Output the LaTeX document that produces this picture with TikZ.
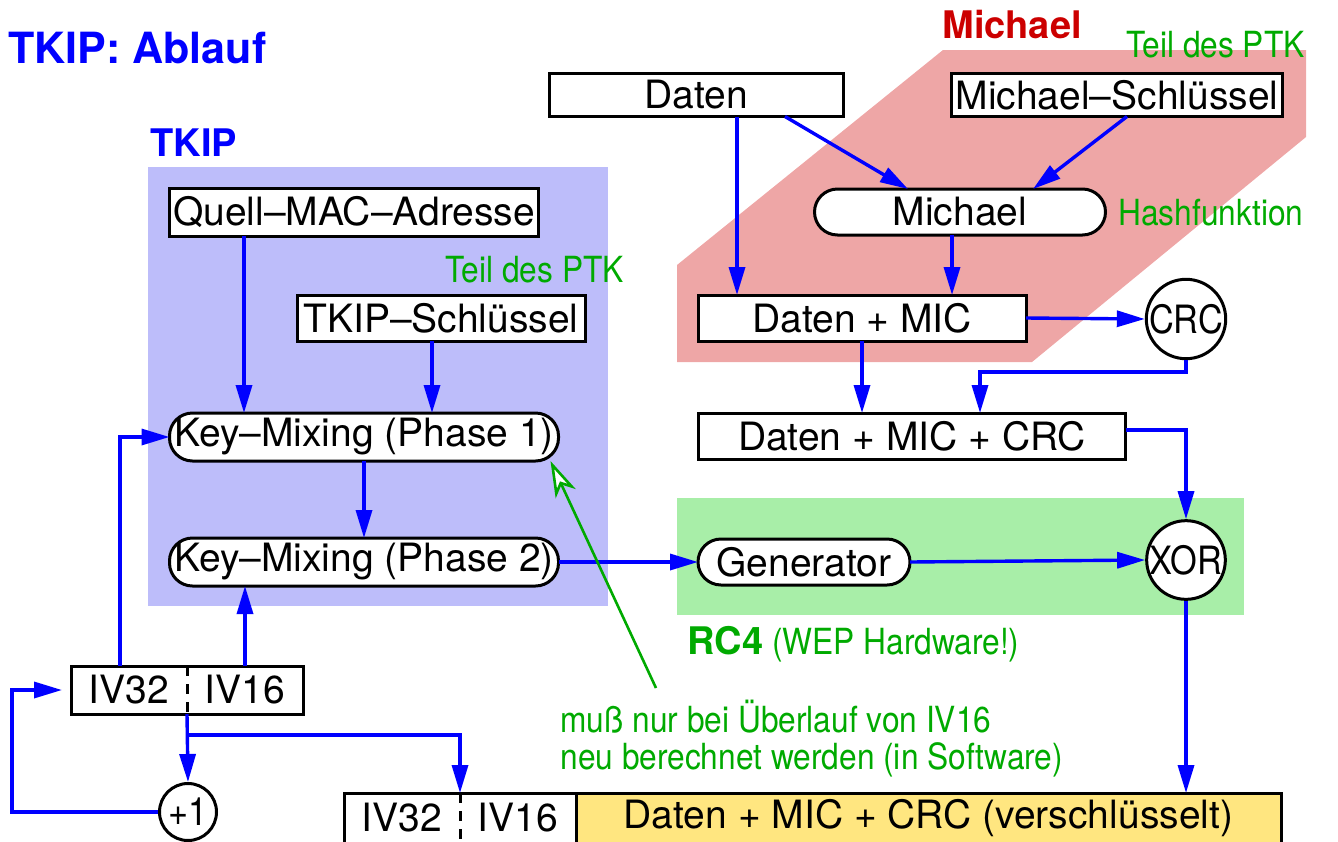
\documentclass[tikz,border=0pt]{standalone}
\usepackage{fontspec}
\setmainfont{TeX Gyre Heros}
\newfontfamily\condfont[FakeStretch=0.88]{TeX Gyre Heros}
\usetikzlibrary{arrows.meta, positioning}

\definecolor{tkipblue}{RGB}{189,189,250}
\definecolor{michaelred}{RGB}{238,166,166}
\definecolor{rcgreen}{RGB}{168,238,168}
\definecolor{cryptyellow}{RGB}{255,230,128}
\definecolor{notegreen}{RGB}{0,170,0}
\definecolor{titlered}{RGB}{204,0,0}

\begin{document}
\begin{tikzpicture}[
            x = 0.5pt, y = -0.5pt,
            > = {Triangle[length=14pt, width=8pt]},
            box/.style = {draw, line width=1.5pt, fill=white, minimum height=23pt,
                          inner sep=0pt, outer sep=0pt, font=\fontsize{19.5}{23}\selectfont},
            roundbox/.style = {box, rounded corners=11.5pt},
            halfbox/.style = {inner sep=0pt, outer sep=0pt, minimum width=58pt,
                              minimum height=24pt, font=\fontsize{19.5}{23}\selectfont},
            junction/.style = {draw, circle, line width=1.5pt, fill=white, minimum size=38.5pt,
                               inner sep=0pt, font=\condfont\fontsize{19.5}{23}\selectfont},
            flow/.style = {->, blue, line width=1.7pt},
            greennote/.style = {notegreen, inner sep=0pt, font=\condfont\fontsize{18}{18.5}\selectfont},
            heading/.style = {inner sep=0pt, font=\bfseries\fontsize{19}{23}\selectfont}
        ]
        \useasboundingbox (0,0) rectangle (1338,841);

        % coloured regions
        \fill[tkipblue] (148,167) rectangle (608,606);
        \fill[michaelred] (943,50) -- (1306,50) -- (1306,137) -- (1032,362)
                          -- (677,362) -- (677,265) -- cycle;
        \fill[rcgreen] (677,498) rectangle (1244,615);

        % headings and remarks
        \node[heading, blue, anchor=west, font=\bfseries\fontsize{21.5}{25}\selectfont] (title) at (8,48) {TKIP: Ablauf};
        \node[heading, blue, anchor=west] (tkiplabel) at (150,143) {TKIP};
        \node[heading, titlered, anchor=west] (michaellabel) at (942,25) {Michael};
        \node[greennote, anchor=east] (ptkright) at (1305,45) {Teil des PTK};
        \node[greennote, anchor=west] (hashlabel) at (1118,213) {Hashfunktion};
        \node[greennote, anchor=west] (ptkleft) at (445,270) {Teil des PTK};
        \node[greennote, anchor=west] (rc4label) at (687,644)
            {{\normalfont\bfseries\fontsize{19}{23}\selectfont RC4} (WEP Hardware!)};
        \node[greennote, anchor=north west, align=left] (note) at (560,700)
            {muß nur bei Überlauf von IV16\\neu berechnet werden (in Software)};

        % Michael side
        \node[box, minimum width=147pt, minimum height=21.5pt] (daten) at (696,95) {Daten};
        \node[box, minimum width=165.5pt, minimum height=21.5pt] (mkey) at (1117,95) {Michael–Schlüssel};
        \node[roundbox, minimum width=145.5pt] (michael) at (960,212) {Michael};
        \node[box, minimum width=164pt] (dmic) at (862,318) {Daten + MIC};
        \node[junction] (crc) at (1186,319) {CRC};
        \node[box, minimum width=213.5pt] (dmiccrc) at (912,436) {Daten + MIC + CRC};
        \node[junction] (xor) at (1186,560) {XOR};
        \node[roundbox, minimum width=106pt] (gen) at (804,562) {Generator};

        % TKIP side
        \node[box, minimum width=184.5pt, minimum height=24pt] (quell) at (354,212) {Quell–MAC–Adresse};
        \node[box, minimum width=144pt] (tkey) at (441,318) {TKIP–Schlüssel};
        \node[roundbox, minimum width=194.5pt, minimum height=24pt] (km1) at (364,437) {Key–Mixing (Phase 1)};
        \node[roundbox, minimum width=194.5pt, minimum height=24pt] (km2) at (364,562) {Key–Mixing (Phase 2)};

        % IV counter
        \node[halfbox] (iv32) at (129,690) {IV32};
        \node[halfbox, right=0pt of iv32] (iv16) {IV16};
        \draw[line width=1.5pt] (iv32.north west) rectangle (iv16.south east);
        \draw[line width=1.5pt, dash pattern=on 5pt off 4pt] (iv32.north east) -- (iv32.south east);
        \node[junction, minimum size=28.5pt] (plus) at (188,812) {+1};

        % encrypted frame
        \node[halfbox, minimum height=25pt] (out32) at (402,818) {IV32};
        \node[halfbox, minimum height=25pt, right=0pt of out32] (out16) {IV16};
        \draw[line width=1.5pt] (out32.north west) rectangle (out16.south east);
        \draw[line width=1.5pt, dash pattern=on 5pt off 4pt] (out32.north east) -- (out32.south east);
        \node[box, fill=cryptyellow, minimum width=352.5pt, minimum height=25pt, right=0pt of out16] (crypt)
            {Daten + MIC + CRC (verschlüsselt)};

        % connectors
        \draw[flow] (daten.south -| 737,0) -- (dmic.north -| 737,0);
        \draw[flow] (daten.south -| 785,0) -- (michael.north -| 908,0);
        \draw[flow] (mkey.south -| 1127,0) -- (michael.north -| 1033,0);
        \draw[flow] (michael.south -| 952,0) -- (dmic.north -| 952,0);
        \draw[flow] (dmic.east) -- (crc.west);
        \draw[flow] (dmic.south) -- (dmiccrc.north -| dmic.south);
        \draw[flow] (crc.south) |- (980,372) -- (dmiccrc.north -| 980,0);
        \draw[flow] ([yshift=3pt]dmiccrc.east) -| (xor.north);
        \draw[flow] (gen.east) -- (xor.west);
        \draw[flow] (xor.south) -- (crypt.north -| xor.south);
        \draw[flow] (km2.east) -- (gen.west);
        \draw[flow] (quell.south -| 244,0) -- (km1.north -| 244,0);
        \draw[flow] (tkey.south -| 432,0) -- (km1.north -| 432,0);
        \draw[flow] (km1) -- (km2);
        \draw[flow] (iv32.north -| 120,0) |- (km1.west);
        \draw[flow] (iv16.north -| 245,0) -- (km2.south -| 245,0);
        \draw[flow] (iv32.south east) -- (plus.north);
        \draw[flow] (iv32.south east |- 0,735) -| (out32.north east);
        \draw[flow] (plus.west) -| (12,690) -- ([xshift=-4.5pt]iv32.west);

        % remark pointer
        \draw[notegreen, line width=1.3pt, -{Stealth[length=18pt, width=11pt, inset=5pt, fill=white]}]
            ([xshift=48pt, yshift=6pt]note.north west) -- ([xshift=-4pt]km1.south east);
    \end{tikzpicture}
\end{document}
